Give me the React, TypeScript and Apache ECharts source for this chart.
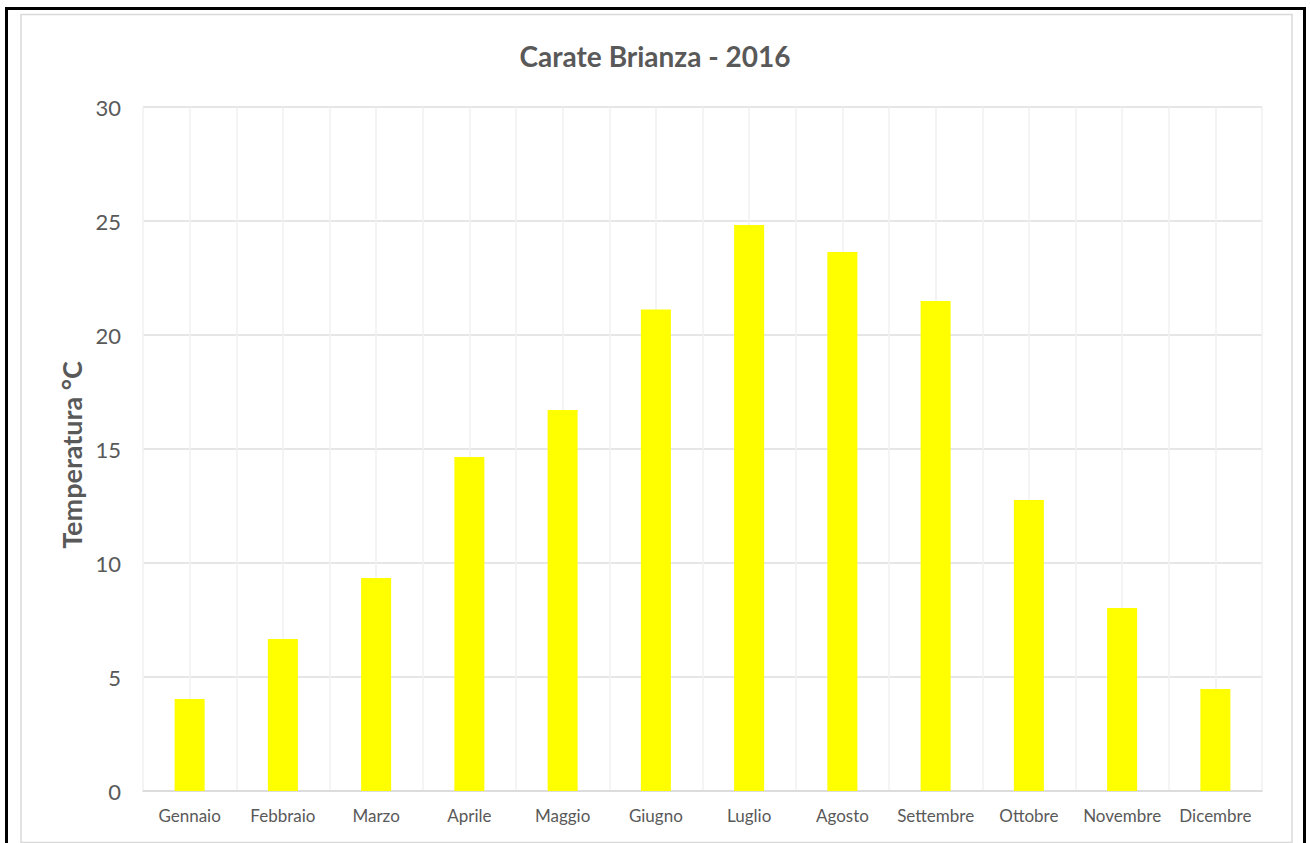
import React, { useEffect, useRef } from "react";
import * as echarts from "echarts";

const months = ["Gennaio", "Febbraio", "Marzo", "Aprile", "Maggio", "Giugno", "Luglio", "Agosto", "Settembre", "Ottobre", "Novembre", "Dicembre"];
const temperatures = [4.04, 6.67, 9.34, 14.65, 16.71, 21.12, 24.82, 23.64, 21.49, 12.76, 8.03, 4.47];
const chartTitle = "Carate Brianza - 2016";
const yAxisTitle = "Temperatura °C";

export default function App() {
  const ref = useRef<HTMLDivElement>(null);
  useEffect(() => {
    if (!ref.current) return;
    const chart = echarts.init(ref.current, null, { renderer: "svg" });
    const font = "Lato, 'Open Sans', 'Liberation Sans', sans-serif";
    chart.setOption({
      animation: false,
      backgroundColor: "#ffffff",
      title: {
        text: chartTitle,
        left: "center",
        top: 37,
        textStyle: { fontFamily: font, fontSize: 28, fontWeight: "bold", color: "#595959" },
      },
      grid: { left: 143, right: 48, top: 107, bottom: 52 },
      xAxis: [
        {
          type: "category",
          data: months,
          boundaryGap: true,
          axisLine: { show: true, lineStyle: { color: "#d9d9d9", width: 1.5 } },
          axisTick: { show: false },
          splitLine: { show: false },
          axisLabel: { color: "#595959", fontFamily: font, fontSize: 17, margin: 16, interval: 0 },
        },
        {
          type: "value",
          min: 0,
          max: 24,
          interval: 1,
          position: "top",
          axisLine: { show: false },
          axisTick: { show: false },
          axisLabel: { show: false },
          splitLine: { show: true, lineStyle: { color: "#f0f0f0", width: 1.5 } },
        },
      ],
      yAxis: {
        type: "value",
        min: 0,
        max: 30,
        interval: 5,
        name: yAxisTitle,
        nameLocation: "middle",
        nameGap: 56,
        nameTextStyle: { fontFamily: font, fontSize: 27, fontWeight: "bold", color: "#595959", padding: [0, 12, 0, 0] },
        axisLine: { show: false },
        axisTick: { show: false },
        axisLabel: { color: "#595959", fontFamily: font, fontSize: 22, margin: 22 },
        splitLine: { show: true, lineStyle: { color: "#dedede", width: 1.5 } },
      },
      series: [
        {
          type: "bar",
          xAxisIndex: 0,
          data: temperatures,
          barWidth: 30,
          itemStyle: { color: "#ffff00" },
        },
      ],
      graphic: [
        {
          type: "rect",
          shape: { x: 21, y: 14.5, width: 1271, height: 828 },
          style: { fill: "none", stroke: "#d9d9d9", lineWidth: 1.5 },
          silent: true,
        },
        {
          type: "rect",
          shape: { x: 6.5, y: 8.5, width: 1298, height: 840 },
          style: { fill: "none", stroke: "#000000", lineWidth: 3 },
          silent: true,
        },
      ],
    });
    return () => chart.dispose();
  }, []);
  return <div ref={ref} style={{ position: "fixed", left: 0, top: 0, width: 1310, height: 843 }} />;
}
